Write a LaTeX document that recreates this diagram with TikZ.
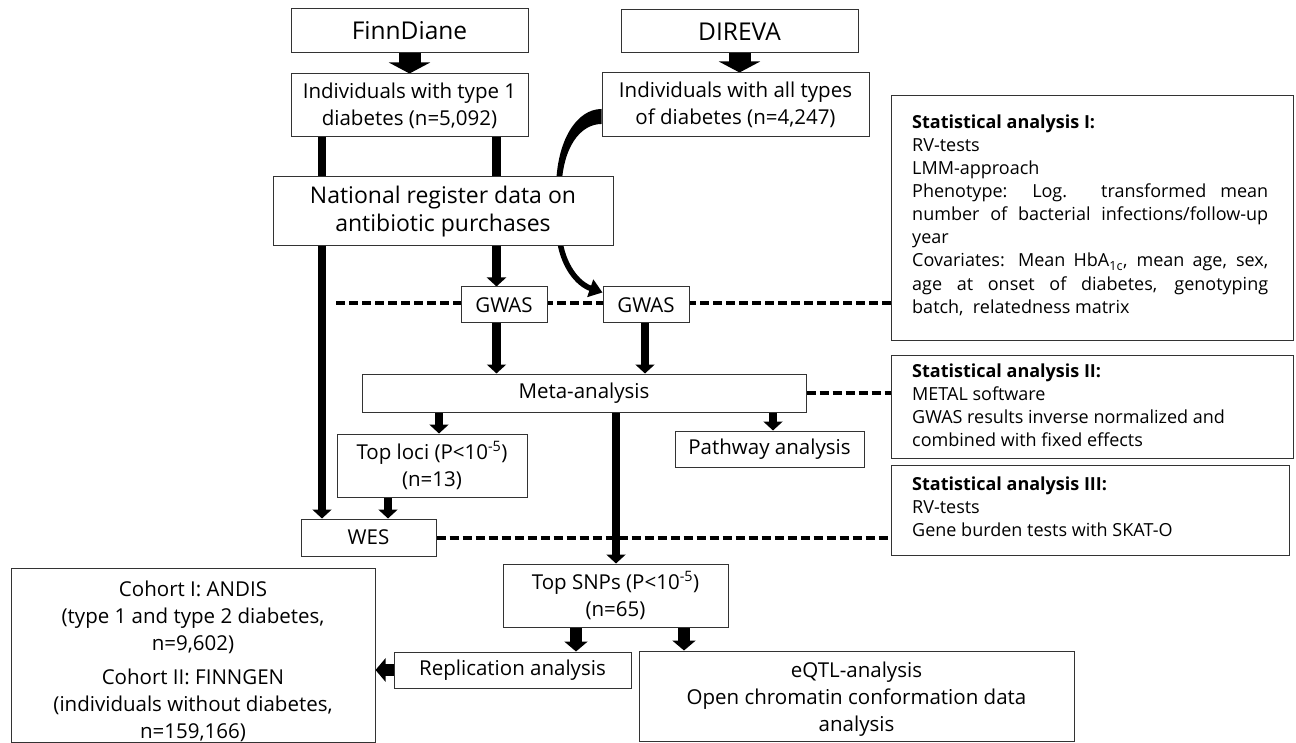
\documentclass[tikz,border=0pt]{standalone}
\usepackage{fontspec}
\setmainfont{Open Sans}
\usetikzlibrary{arrows.meta,backgrounds,calc}
\begin{document}
\begin{tikzpicture}[x=1pt,y=-1pt,
  box/.style={draw=black!80, line width=1pt, fill=white, inner sep=0pt, align=center},
  fatarrow/.style={line width=22pt, -{Triangle[width=41pt,length=11pt]}},
  thickarrow/.style={line width=8.5pt, -{Triangle[width=19pt,length=9pt]}},
  medarrow/.style={line width=12pt, -{Triangle[width=23pt,length=10pt]}},
  dashline/.style={line width=4pt, dash pattern=on 9pt off 4pt},
  fbig/.style={font=\fontsize{24.5}{30}\selectfont},
  freg/.style={font=\fontsize{23}{28}\selectfont},
  fmain/.style={font=\fontsize{20.5}{27}\selectfont},
  fstat/.style={font=\fontsize{18}{23.1}\selectfont},
  stattext/.style={fstat, inner sep=0pt, anchor=north west, align=left},
]
\useasboundingbox (0,0) rectangle (1296,743);

% boxes
\node[box, fbig, minimum width=237, minimum height=44] (finn) at (409.5,31) {FinnDiane};
\node[box, fbig, minimum width=237, minimum height=43] (direva) at (739.5,31.5) {DIREVA};
\node[box, fmain, minimum width=237, minimum height=63] (ind1) at (409.5,105.5) {Individuals with type 1\\diabetes (n=5,092)};
\node[box, fmain, minimum width=267, minimum height=64] (ind2) at (735.5,105) {Individuals with all types\\of diabetes (n=4,247)};
\node[box, freg, minimum width=340, minimum height=69] (reg) at (443,211.5) {National register data on\\antibiotic purchases};
\node[box, fmain, minimum width=86, minimum height=36] (gwas1) at (504,305) {GWAS};
\node[box, fmain, minimum width=86, minimum height=36] (gwas2) at (646,305) {GWAS};
\node[box, fmain, minimum width=444, minimum height=38] (meta) at (584,393) {Meta-analysis};
\node[box, fmain, minimum width=190, minimum height=63] (loci) at (432,465.5) {Top loci (P<10\textsuperscript{-5})\\(n=13)};
\node[box, fmain, minimum width=189, minimum height=36] (path) at (769.5,449) {Pathway analysis};
\node[box, fmain, minimum width=135, minimum height=37] (wes) at (368.5,537.5) {WES};
\node[box, fmain, minimum width=225, minimum height=63] (snps) at (615.5,595.5) {Top SNPs (P<10\textsuperscript{-5})\\(n=65)};
\node[box, fmain, minimum width=237, minimum height=36] (rep) at (512.5,670) {Replication analysis};
\node[box, fmain, minimum width=435, minimum height=90] (eqtl) at (856.5,696) {\rule{0pt}{22pt}eQTL-analysis\\Open chromatin conformation data\\analysis};
\node[box, fmain, minimum width=364, minimum height=173] (cohort) at (193,655.5) {\rule{0pt}{28pt}Cohort I: ANDIS\\(type 1 and type 2 diabetes,\\n=9,602)\\[7pt]Cohort II: FINNGEN\\(individuals without diabetes,\\n=159,166)};

\node[box, minimum width=402, minimum height=245] (s1) at (1092,218.5) {};
\node[box, minimum width=402, minimum height=103] (s2) at (1092,406.5) {};
\node[box, minimum width=398, minimum height=90] (s3) at (1090,510) {};

\node[stattext, text width=356pt, align=justify] (t1) at (912,114.5) {\hyphenpenalty=10000\relax\exhyphenpenalty=10000\relax\tolerance=10000\relax
\textbf{Statistical analysis I:}\\RV-tests\\LMM-approach\\Phenotype: Log. transformed mean\linebreak number of bacterial infections/follow-up\linebreak year\\Covariates: Mean HbA\textsubscript{1c}, mean age, sex,\linebreak age at onset of diabetes, genotyping\linebreak batch,~ relatedness matrix};
\node[stattext] (t2) at (912,363.5) {\textbf{Statistical analysis II:}\\METAL software\\GWAS results inverse normalized and\\combined with fixed effects};
\node[stattext] (t3) at (912,476.5) {\textbf{Statistical analysis III:}\\RV-tests\\Gene burden tests with SKAT-O};

% x positions
\coordinate (xa) at (322,0);
\coordinate (xb) at (496.5,0);
\coordinate (xc) at (645,0);
\coordinate (xd) at (439,0);
\coordinate (xe) at (773,0);
\coordinate (xf) at (616,0);
\coordinate (xg) at (388,0);
\coordinate (xh) at (576,0);
\coordinate (xi) at (684,0);
\coordinate (dl) at (336,303);

\begin{pgfonlayer}{background}
% dashed lines
\draw[dashline] (dl) -- (dl -| s1.west);
\draw[dashline] (meta.east) -- (meta.east -| s2.west);
\draw[dashline] (wes.east) -- (wes.east -| s3.west);
% arrows
\draw[fatarrow] (finn.south) -- (ind1.north);
\draw[fatarrow] (direva.south) -- (direva.south |- ind2.north);
\draw[thickarrow] (ind1.south -| xa) -- (wes.north -| xa);
\draw[thickarrow] (ind1.south -| xb) -- (gwas1.north -| xb);
\draw[thickarrow] (gwas1.south -| xb) -- (meta.north -| xb);
\draw[thickarrow] (gwas2.south -| xc) -- (meta.north -| xc);
\draw[thickarrow] (meta.south -| xd) -- (loci.north -| xd);
\draw[thickarrow] (meta.south -| xe) -- (path.north -| xe);
\draw[thickarrow] (meta.south -| xf) -- (snps.north -| xf);
\draw[thickarrow] (loci.south -| xg) -- (wes.north -| xg);
\draw[medarrow] (snps.south -| xh) -- (rep.north -| xh);
\draw[medarrow] (snps.south -| xi) -- (eqtl.north -| xi);
\draw[medarrow] (rep.west) -- (rep.west -| cohort.east);
% curved arrow from DIREVA individuals to second GWAS
\fill ($(ind2.west)+(0,4)$) .. controls (577,109) and (556,140) .. (556,190)
   -- (561.5,190) .. controls (562,148) and (580,124) .. ($(ind2.west)+(0,19)$) -- cycle;
\draw[line width=5.5pt, -{Triangle[width=18pt,length=13pt]}] (559,235) .. controls (562,266) and (578,284) .. ($(gwas2.north west)+(0,6)$);
\end{pgfonlayer}
\end{tikzpicture}
\end{document}
